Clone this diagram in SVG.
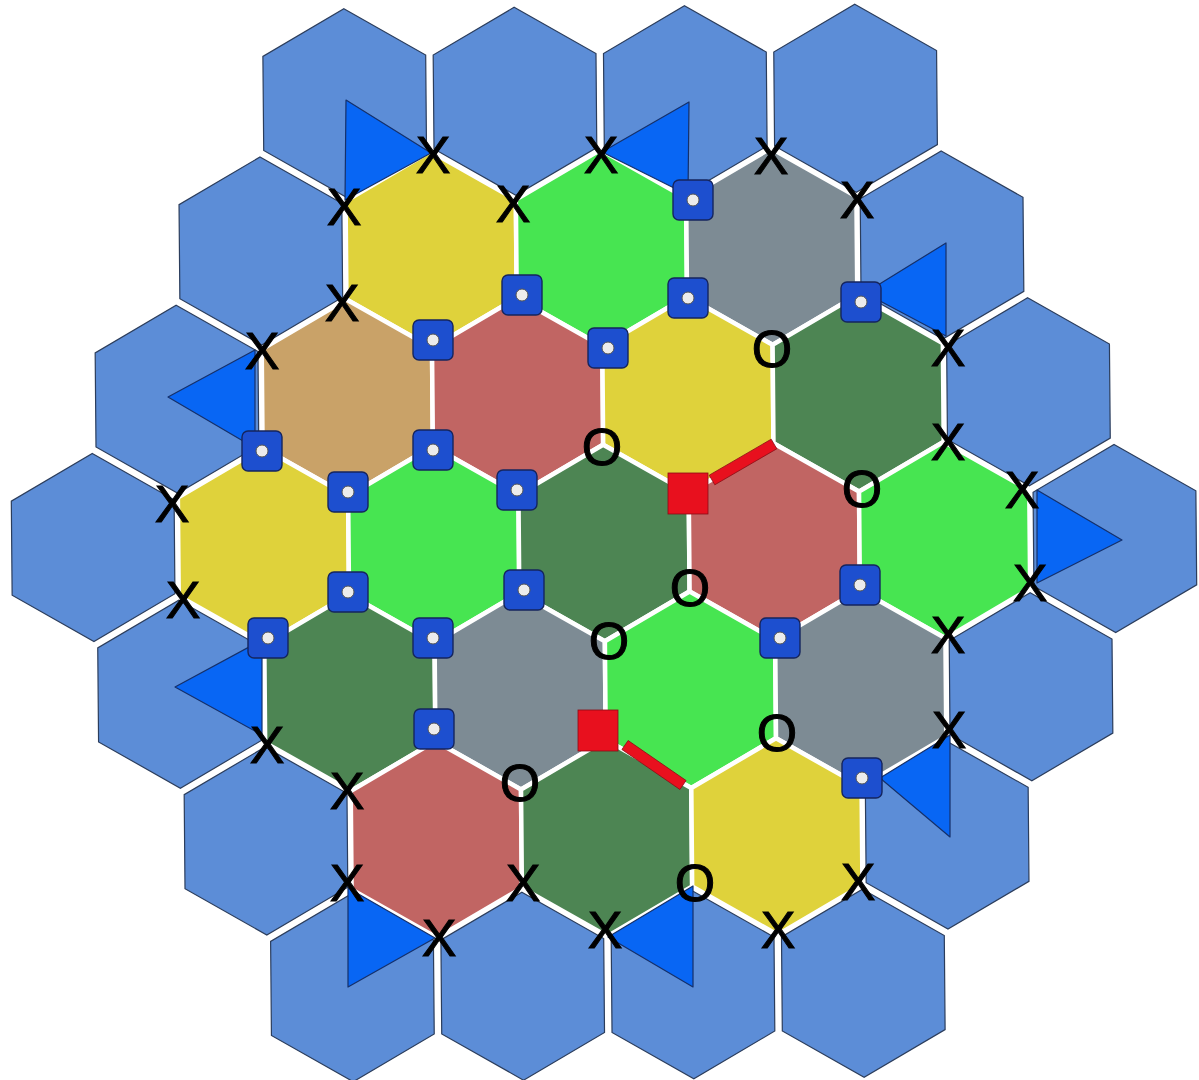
<svg xmlns="http://www.w3.org/2000/svg" xmlns:xlink="http://www.w3.org/1999/xlink" width="1199" height="1080" viewBox="0 0 1199 1080">
<style>
.ocean{fill:#5c8dd7;stroke:#2b3d5c;stroke-width:1.2}
.land{stroke:#ffffff;stroke-width:4.5;stroke-linejoin:miter}
.yellow{fill:#dfd23b}.lgreen{fill:#47e551}.gray{fill:#7d8b94}.dgreen{fill:#4d8553}.red{fill:#c16563}.tan{fill:#c9a268}
.port{fill:#0866f4;stroke:#15306a;stroke-width:1.2;stroke-linejoin:round}
.road{fill:#e8101e;stroke:#8a0c14;stroke-width:0.8}
.mk{font-family:"Liberation Sans",Arial,sans-serif;font-size:52px;fill:#000;stroke:#000;stroke-width:1;text-anchor:middle;dominant-baseline:central}
</style>
<defs>
<polygon id="oh" points="0,-94 81.4,-47 81.4,47 0,94 -81.4,47 -81.4,-47"/>
<polygon id="lh" points="0,-98.3 85.13,-49.15 85.13,49.15 0,98.3 -85.13,49.15 -85.13,-49.15"/>
<g id="bsq">
<rect x="-20" y="-20" width="40" height="40" rx="6" fill="#1d4fcf" stroke="#15255e" stroke-width="1.4"/>
<circle r="6" fill="#ececec" stroke="#555" stroke-width="1"/>
</g>
</defs>
<rect width="1199" height="1080" fill="#ffffff"/>
<g id="board" transform="rotate(-0.5 604 543)">
<g id="ocean">
<use id="o1" href="#oh" class="ocean" x="348.55" y="100.5"/>
<use id="o2" href="#oh" class="ocean" x="518.85" y="100.5"/>
<use id="o3" href="#oh" class="ocean" x="689.15" y="100.5"/>
<use id="o4" href="#oh" class="ocean" x="859.45" y="100.5"/>
<use id="o5" href="#oh" class="ocean" x="263.4" y="248"/>
<use id="o6" href="#oh" class="ocean" x="944.6" y="248"/>
<use id="o7" href="#oh" class="ocean" x="178.25" y="395.5"/>
<use id="o8" href="#oh" class="ocean" x="1029.75" y="395.5"/>
<use id="o9" href="#oh" class="ocean" x="93.1" y="543"/>
<use id="o10" href="#oh" class="ocean" x="1114.9" y="543"/>
<use id="o11" href="#oh" class="ocean" x="178.25" y="690.5"/>
<use id="o12" href="#oh" class="ocean" x="1029.75" y="690.5"/>
<use id="o13" href="#oh" class="ocean" x="263.4" y="838"/>
<use id="o14" href="#oh" class="ocean" x="944.6" y="838"/>
<use id="o15" href="#oh" class="ocean" x="348.55" y="985.5"/>
<use id="o16" href="#oh" class="ocean" x="518.85" y="985.5"/>
<use id="o17" href="#oh" class="ocean" x="689.15" y="985.5"/>
<use id="o18" href="#oh" class="ocean" x="859.45" y="985.5"/>
</g>
<g id="land">
<use id="l1" href="#lh" class="land yellow" x="433.7" y="248"/>
<use id="l2" href="#lh" class="land lgreen" x="604" y="248"/>
<use id="l3" href="#lh" class="land gray" x="774.3" y="248"/>
<use id="l4" href="#lh" class="land tan" x="348.55" y="395.5"/>
<use id="l5" href="#lh" class="land red" x="518.85" y="395.5"/>
<use id="l6" href="#lh" class="land yellow" x="689.15" y="395.5"/>
<use id="l7" href="#lh" class="land dgreen" x="859.45" y="395.5"/>
<use id="l8" href="#lh" class="land yellow" x="263.4" y="543"/>
<use id="l9" href="#lh" class="land lgreen" x="433.7" y="543"/>
<use id="l10" href="#lh" class="land dgreen" x="604" y="543"/>
<use id="l11" href="#lh" class="land red" x="774.3" y="543"/>
<use id="l12" href="#lh" class="land lgreen" x="944.6" y="543"/>
<use id="l13" href="#lh" class="land dgreen" x="348.55" y="690.5"/>
<use id="l14" href="#lh" class="land gray" x="518.85" y="690.5"/>
<use id="l15" href="#lh" class="land lgreen" x="689.15" y="690.5"/>
<use id="l16" href="#lh" class="land gray" x="859.45" y="690.5"/>
<use id="l17" href="#lh" class="land red" x="433.7" y="838"/>
<use id="l18" href="#lh" class="land dgreen" x="604" y="838"/>
<use id="l19" href="#lh" class="land yellow" x="774.3" y="838"/>
</g>
</g>
<g id="ports">
<polygon id="p1" class="port" points="346,100 431,153 345,200"/>
<polygon id="p2" class="port" points="602,152 689,102 688,195"/>
<polygon id="p3" class="port" points="865,293 946,243 946,336"/>
<polygon id="p4" class="port" points="168,397 255,350 255,448"/>
<polygon id="p5" class="port" points="1037,490 1122,540 1037,583"/>
<polygon id="p6" class="port" points="175,687 262,640 262,735"/>
<polygon id="p7" class="port" points="880,778 950,735 950,837"/>
<polygon id="p8" class="port" points="608,937 693,886 693,987"/>
<polygon id="p9" class="port" points="348,888 435,938 348,987"/>
</g>
<g id="roads">
<polygon id="rd1" class="road" points="709.2,475.2 771.2,439.2 776.8,448.8 714.8,484.8"/>
<polygon id="rd2" class="road" points="628.1,740.5 686.1,780.5 679.9,789.5 621.9,749.5"/>
<rect id="rs1" class="road" x="668" y="473" width="40" height="41"/>
<rect id="rs2" class="road" x="578" y="710" width="40" height="41"/>
</g>
<g id="settlements">
<use id="b1" href="#bsq" x="693" y="200"/>
<use id="b2" href="#bsq" x="522" y="295"/>
<use id="b3" href="#bsq" x="688" y="298"/>
<use id="b4" href="#bsq" x="861" y="302"/>
<use id="b5" href="#bsq" x="433" y="340"/>
<use id="b6" href="#bsq" x="608" y="348"/>
<use id="b7" href="#bsq" x="262" y="451"/>
<use id="b8" href="#bsq" x="433" y="450"/>
<use id="b9" href="#bsq" x="348" y="492"/>
<use id="b10" href="#bsq" x="517" y="490"/>
<use id="b11" href="#bsq" x="348" y="592"/>
<use id="b12" href="#bsq" x="524" y="590"/>
<use id="b13" href="#bsq" x="268" y="638"/>
<use id="b14" href="#bsq" x="433" y="638"/>
<use id="b15" href="#bsq" x="860" y="585"/>
<use id="b16" href="#bsq" x="780" y="638"/>
<use id="b17" href="#bsq" x="434" y="729"/>
<use id="b18" href="#bsq" x="862" y="778"/>
</g>
<g id="marks">
<text class="mk" x="433" y="155">X</text>
<text class="mk" x="601" y="155">X</text>
<text class="mk" x="771" y="156">X</text>
<text class="mk" x="344" y="207">X</text>
<text class="mk" x="513" y="204">X</text>
<text class="mk" x="857" y="200">X</text>
<text class="mk" x="342" y="303">X</text>
<text class="mk" x="262" y="351">X</text>
<text class="mk" x="948" y="348">X</text>
<text class="mk" x="948" y="442">X</text>
<text class="mk" x="172" y="504">X</text>
<text class="mk" x="183" y="600">X</text>
<text class="mk" x="1022" y="490">X</text>
<text class="mk" x="1030" y="583">X</text>
<text class="mk" x="948" y="635">X</text>
<text class="mk" x="267" y="745">X</text>
<text class="mk" x="347" y="791">X</text>
<text class="mk" x="949" y="730">X</text>
<text class="mk" x="347" y="883">X</text>
<text class="mk" x="523" y="883">X</text>
<text class="mk" x="439" y="938">X</text>
<text class="mk" x="605" y="930">X</text>
<text class="mk" x="778" y="930">X</text>
<text class="mk" x="858" y="882">X</text>
<text class="mk" x="772" y="349">O</text>
<text class="mk" x="602" y="447">O</text>
<text class="mk" x="862" y="489">O</text>
<text class="mk" x="690" y="588">O</text>
<text class="mk" x="609" y="641">O</text>
<text class="mk" x="777" y="733">O</text>
<text class="mk" x="520" y="783">O</text>
<text class="mk" x="695" y="883">O</text>
</g>
</svg>
